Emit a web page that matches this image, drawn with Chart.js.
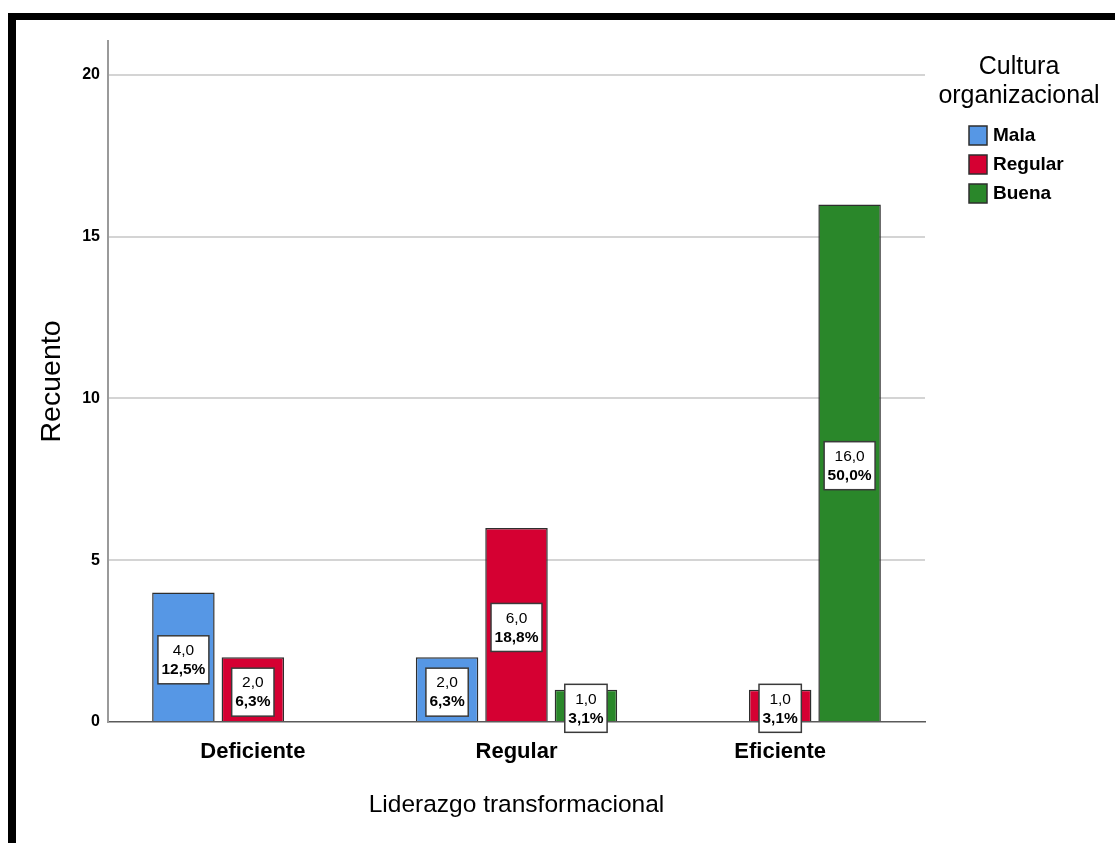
<!DOCTYPE html>
<html>
<head>
<meta charset="utf-8">
<script src="https://cdn.jsdelivr.net/npm/chart.js@4.4.1/dist/chart.umd.min.js"></script>
<style>
  html, body { margin: 0; padding: 0; background: #fff; }
  #wrap { position: relative; width: 1115px; height: 843px; overflow: hidden; }
  #wrap canvas { position: absolute; left: 0; top: 0; }
  #frame { position: absolute; left: 8px; top: 13px; right: -10px; bottom: -10px;
           border-top: 7px solid #000; border-left: 8px solid #000; pointer-events: none; }
</style>
</head>
<body>
<div id="wrap">
  <canvas id="chart" width="1115" height="843"></canvas>
  <div id="frame"></div>
</div>
<script>
// Crosstab counts: Liderazgo transformacional x Cultura organizacional
const categories = ['Deficiente', 'Regular', 'Eficiente'];
const seriesNames = ['Mala', 'Regular', 'Buena'];
const mala    = [4, 2, null];
const regular = [2, 6, 1];
const buena   = [null, 1, 16];
const yTicks  = [0, 5, 10, 15, 20];
const totalCases = 32;

const colors = ['#5697e5', '#d50032', '#2a872a'];
const FONT = 'Liberation Sans, Arial, sans-serif';

const datasets = [mala, regular, buena].map((values, i) => ({
  label: seriesNames[i],
  data: values,
  backgroundColor: colors[i],
  borderColor: '#2e2e2e',
  borderWidth: 1.5,
  categoryPercentage: 0.79,
  barPercentage: 0.9
}));

const fmt = v => v.toFixed(1).replace('.', ',');

// Inset the category band so the outer groups sit a little away from the axis ends
const categoryInset = {
  id: 'categoryInset',
  afterLayout(chart) {
    const s = chart.scales.x;
    const inset = 13;
    s._startPixel = s.left + inset;
    s._endPixel = s.right - inset;
    s._length = s._endPixel - s._startPixel;
  }
};

// White value/percentage boxes centred on each bar
const barLabels = {
  id: 'barLabels',
  afterDatasetsDraw(chart) {
    const ctx = chart.ctx;
    ctx.save();
    chart.data.datasets.forEach((ds, i) => {
      const meta = chart.getDatasetMeta(i);
      meta.data.forEach((el, j) => {
        const v = ds.data[j];
        if (v === null || v === undefined) return;
        const line1 = fmt(v);
        const line2 = fmt(v / totalCases * 100) + '%';
        const f1 = '15.5px ' + FONT;
        const f2 = 'bold 15.5px ' + FONT;
        ctx.font = f1; const w1 = ctx.measureText(line1).width;
        ctx.font = f2; const w2 = ctx.measureText(line2).width;
        const w = Math.max(w1, w2) + 7;
        const h = 48;
        const cx = el.x;
        const cy = (el.y + el.base) / 2 + 3;
        ctx.fillStyle = '#ffffff';
        ctx.fillRect(cx - w / 2, cy - h / 2, w, h);
        ctx.strokeStyle = '#3a3a3a';
        ctx.lineWidth = 1.5;
        ctx.strokeRect(cx - w / 2, cy - h / 2, w, h);
        ctx.fillStyle = '#000';
        ctx.textAlign = 'center';
        ctx.textBaseline = 'middle';
        ctx.font = f1; ctx.fillText(line1, cx, cy - 9);
        ctx.font = f2; ctx.fillText(line2, cx, cy + 10);
      });
    });
    ctx.restore();
  }
};

// Legend with a two-line title on the right side
const sideLegend = {
  id: 'sideLegend',
  afterDraw(chart) {
    const ctx = chart.ctx;
    ctx.save();
    ctx.fillStyle = '#000';
    ctx.textAlign = 'center';
    ctx.textBaseline = 'middle';
    ctx.font = '25px ' + FONT;
    ctx.fillText('Cultura', 1019, 67);
    ctx.fillText('organizacional', 1019, 96);
    chart.data.datasets.forEach((ds, i) => {
      const y = 135 + i * 29;
      ctx.fillStyle = ds.backgroundColor;
      ctx.fillRect(969, y - 9, 18, 19);
      ctx.strokeStyle = '#2e2e2e';
      ctx.lineWidth = 1.5;
      ctx.strokeRect(969, y - 9, 18, 19);
      ctx.fillStyle = '#000';
      ctx.textAlign = 'left';
      ctx.font = 'bold 19px ' + FONT;
      ctx.fillText(ds.label, 993, y + 1);
    });
    ctx.restore();
  }
};

new Chart(document.getElementById('chart'), {
  type: 'bar',
  data: { labels: categories, datasets },
  plugins: [categoryInset, barLabels, sideLegend],
  options: {
    responsive: false,
    animation: false,
    layout: { padding: { left: 18, right: 190, top: 41, bottom: 0 } },
    plugins: { legend: { display: false }, tooltip: { enabled: false } },
    scales: {
      x: {
        afterFit(scale) { scale.height = 121; },
        grid: { display: false },
        border: { display: true, color: '#5a5a5a', width: 1.5 },
        ticks: { color: '#000', padding: 9, font: { family: FONT, size: 22, weight: 'bold' } },
        title: {
          display: true, text: 'Liderazgo transformacional', color: '#000',
          font: { family: FONT, size: 24.5 }, padding: { top: 0, bottom: 23 }
        }
      },
      y: {
        min: 0, max: 21.05,
        afterFit(scale) { scale.width = 90; },
        afterBuildTicks(scale) { scale.ticks = yTicks.map(v => ({ value: v })); },
        grid: {
          drawTicks: false, lineWidth: 2,
          color: c => (c.tick && c.tick.value === 0) ? 'rgba(0,0,0,0)' : '#d4d4d4'
        },
        border: { display: true, color: '#9a9a9a', width: 2 },
        ticks: { color: '#000', padding: 8, font: { family: FONT, size: 16, weight: 'bold' } },
        title: {
          display: true, text: 'Recuento', color: '#000',
          font: { family: FONT, size: 28.5 }, padding: { top: 17, bottom: 0 }
        }
      }
    }
  }
});
</script>
</body>
</html>
